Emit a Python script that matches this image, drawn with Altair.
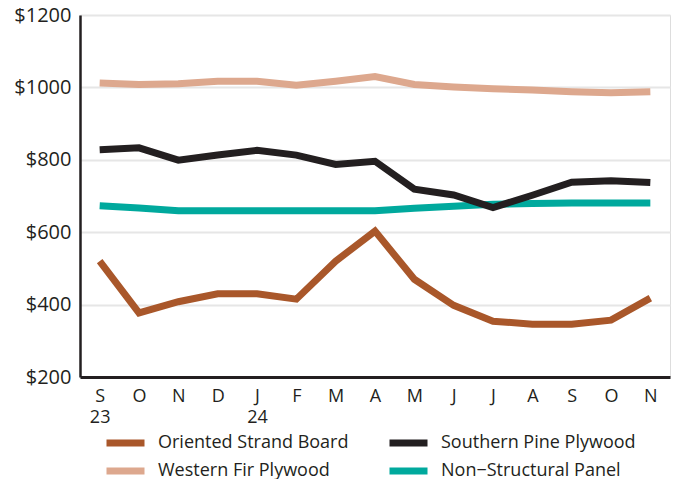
import json
import altair as alt
import pandas as pd

month_keys = ["2023-09", "2023-10", "2023-11", "2023-12", "2024-01", "2024-02", "2024-03",
              "2024-04", "2024-05", "2024-06", "2024-07", "2024-08", "2024-09", "2024-10", "2024-11"]
month_letters = ["S", "O", "N", "D", "J", "F", "M", "A", "M", "J", "J", "A", "S", "O", "N"]
year_labels = ["23", "", "", "", "24", "", "", "", "", "", "", "", "", "", ""]

series_names = ["Western Fir Plywood", "Non\u2212Structural Panel",
                "Oriented Strand Board", "Southern Pine Plywood"]
# legend entries fill column by column
legend_order = ["Oriented Strand Board", "Western Fir Plywood",
                "Southern Pine Plywood", "Non\u2212Structural Panel"]
legend_colors = ["#A9572A", "#DDA88E", "#231F20", "#00A99D"]

western_fir = [1012, 1008, 1010, 1017, 1017, 1006, 1017, 1030, 1008, 1001, 996, 993, 988, 985, 988]
non_structural = [673, 667, 659, 659, 659, 659, 659, 659, 666, 672, 677, 679, 681, 681, 681]
oriented_strand = [520, 377, 408, 430, 430, 415, 520, 603, 470, 398, 354, 346, 346, 357, 418]
southern_pine = [828, 833, 799, 813, 826, 813, 787, 796, 719, 703, 668, 702, 738, 742, 737]

values_by_series = [western_fir, non_structural, oriented_strand, southern_pine]

rows = []
for name, vals in zip(series_names, values_by_series):
    for k, v in zip(month_keys, vals):
        rows.append({"month": k, "series": name, "price": v})
df = pd.DataFrame(rows)

tick_labels = [[l, y] if y else l for l, y in zip(month_letters, year_labels)]
label_expr = f"{json.dumps(tick_labels)}[indexof({json.dumps(month_keys)}, datum.value)]"

FONT = "Open Sans"
TXT = "#231F20"

chart = alt.Chart(df).mark_line(strokeWidth=7, strokeCap="butt").encode(
    x=alt.X("month:O", sort=month_keys, scale=alt.Scale(type="point", padding=0.5),
            axis=alt.Axis(title=None, labelAngle=0, labelExpr=label_expr, ticks=False,
                          domainColor=TXT, domainWidth=3, labelFontSize=18,
                          labelLineHeight=21, labelPadding=10, labelColor=TXT,
                          labelFont=FONT, grid=False, labelBaseline="top")),
    y=alt.Y("price:Q", scale=alt.Scale(domain=[200, 1200], nice=False, zero=False),
            axis=alt.Axis(title=None, values=[200, 400, 600, 800, 1000, 1200],
                          labelExpr="'$' + datum.value", ticks=False,
                          domainColor=TXT, domainWidth=2.5, labelFontSize=20,
                          labelPadding=9, labelColor=TXT, labelFont=FONT,
                          grid=True, gridColor="#E6E6E6", gridWidth=2)),
    color=alt.Color("series:N",
                    scale=alt.Scale(domain=legend_order, range=legend_colors),
                    legend=alt.Legend(title=None, orient="none", legendX=32.5, legendY=415,
                                      columns=2, symbolType="M-2,0H2", symbolSize=361,
                                      symbolStrokeWidth=7, labelFontSize=18,
                                      labelFont=FONT, labelColor=TXT, labelOffset=19.5,
                                      labelLimit=400, rowPadding=0, columnPadding=27,
                                      padding=0)),
    order=alt.Order("series:N")
).properties(
    width=590, height=362,
    autosize=alt.AutoSizeParams(type="none"),
    padding={"left": 72, "top": 7, "right": 2, "bottom": 102}
).configure_view(stroke=None).configure(background="white")

chart.save("out.html", embed_options={"renderer": "svg", "actions": False})
